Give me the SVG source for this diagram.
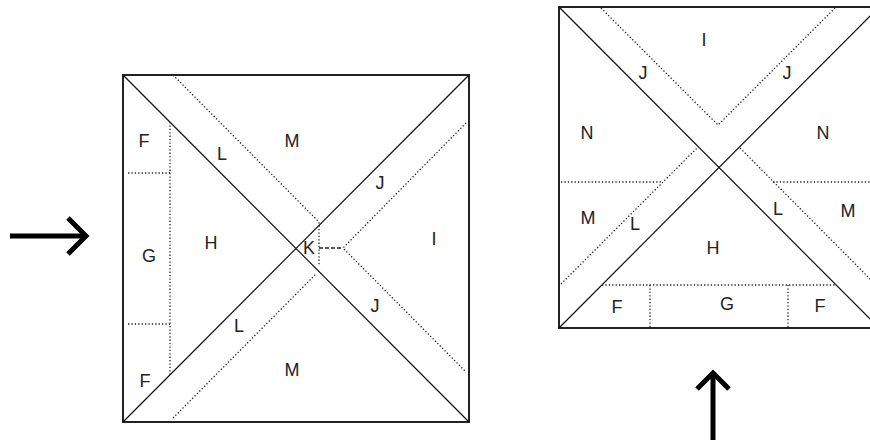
<svg xmlns="http://www.w3.org/2000/svg" width="870" height="446" viewBox="0 0 870 446">
<style>
.border{fill:none;stroke:#222;stroke-width:2}
.diag{fill:none;stroke:#111;stroke-width:1.2}
.dot{fill:none;stroke:#222;stroke-width:1.3;stroke-dasharray:1.3 2.1}
.dash{fill:none;stroke:#222;stroke-width:1.3;stroke-dasharray:4 2}
.lbl{font-family:"Liberation Sans",Arial,sans-serif;font-size:18px;fill:#222;text-anchor:middle}
.arrow{fill:none;stroke:#000;stroke-width:5;stroke-linecap:butt;stroke-linejoin:miter}
</style>
<rect width="870" height="446" fill="#fff"/>
<g id="left-square">
<rect class="border" x="123" y="75" width="346" height="347"/>
<line class="diag" x1="123" y1="75" x2="469" y2="422"/>
<line class="diag" x1="123" y1="422" x2="469" y2="75"/>
<polyline class="dot" points="173,75 319,222 319,266"/>
<line class="dot" x1="173" y1="418" x2="316" y2="274"/>
<polyline class="dot" points="466,123 343,248 465,371"/>
<line class="dash" x1="319" y1="248" x2="343" y2="248"/>
<line class="dot" x1="170" y1="122" x2="170" y2="375"/>
<line class="dot" x1="128" y1="173" x2="170" y2="173"/>
<line class="dot" x1="128" y1="324" x2="170" y2="324"/>
<text class="lbl" x="144" y="147">F</text>
<text class="lbl" x="222" y="160">L</text>
<text class="lbl" x="292" y="147">M</text>
<text class="lbl" x="380" y="189">J</text>
<text class="lbl" x="149" y="262">G</text>
<text class="lbl" x="211" y="249">H</text>
<text class="lbl" x="309" y="254">K</text>
<text class="lbl" x="434" y="245">I</text>
<text class="lbl" x="239" y="332">L</text>
<text class="lbl" x="375" y="312">J</text>
<text class="lbl" x="145" y="387">F</text>
<text class="lbl" x="292" y="376">M</text>
</g>
<g id="right-square">
<rect class="border" x="559" y="7" width="320" height="321"/>
<line class="diag" x1="559" y1="7" x2="879" y2="328"/>
<line class="diag" x1="559" y1="328" x2="879" y2="7"/>
<polyline class="dot" points="601,8 718,125 835,8"/>
<line class="dot" x1="561" y1="284" x2="698" y2="147"/>
<line class="dot" x1="561" y1="182" x2="663" y2="182"/>
<line class="dot" x1="740" y1="148" x2="879" y2="288"/>
<line class="dot" x1="773" y1="182" x2="879" y2="182"/>
<line class="dot" x1="602" y1="285" x2="836" y2="285"/>
<line class="dot" x1="650" y1="285" x2="650" y2="328"/>
<line class="dot" x1="788" y1="285" x2="788" y2="328"/>
<text class="lbl" x="704" y="46">I</text>
<text class="lbl" x="643" y="79">J</text>
<text class="lbl" x="787" y="79">J</text>
<text class="lbl" x="587" y="139">N</text>
<text class="lbl" x="823" y="139">N</text>
<text class="lbl" x="588" y="224">M</text>
<text class="lbl" x="635" y="230">L</text>
<text class="lbl" x="713" y="254">H</text>
<text class="lbl" x="778" y="215">L</text>
<text class="lbl" x="848" y="217">M</text>
<text class="lbl" x="617" y="313">F</text>
<text class="lbl" x="727" y="310">G</text>
<text class="lbl" x="820" y="312">F</text>
</g>
<g id="arrows">
<line class="arrow" x1="10" y1="236" x2="86" y2="236"/>
<polyline class="arrow" points="68,218 86,236 68,254"/>
<line class="arrow" x1="713" y1="440" x2="713" y2="373"/>
<polyline class="arrow" points="697,389 713,373 729,389"/>
</g>
</svg>
